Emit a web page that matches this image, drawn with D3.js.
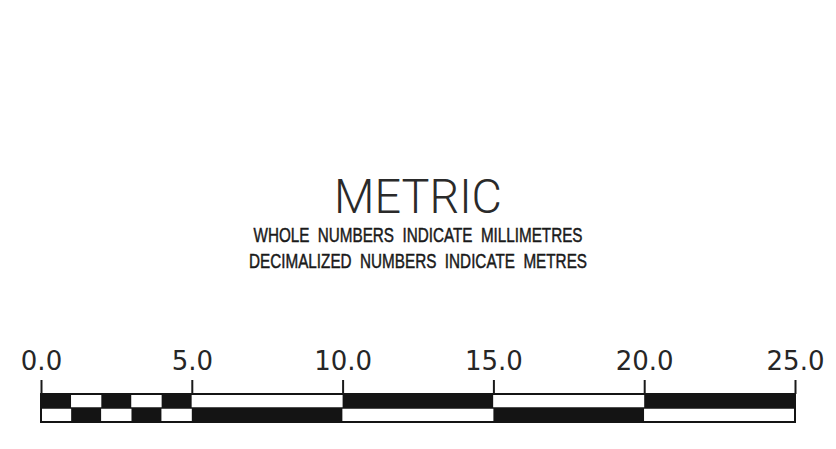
<!DOCTYPE html>
<html lang="en">
<head>
<meta charset="UTF-8">
<script src="https://d3js.org/d3.v7.min.js"></script>
<style>
  body { margin: 0; background: #fff; }
  .scale-axis text { font-family: "DejaVu Sans", sans-serif; font-size: 26px; fill: #262626; }
  .scale-axis line { stroke: #1a1a1a; stroke-width: 2; }
</style>
</head>
<body>
<svg id="chart"></svg>
<script>
// scale bar data
const title = "METRIC";
const subtitles = ["WHOLE  NUMBERS  INDICATE  MILLIMETRES", "DECIMALIZED  NUMBERS  INDICATE  METRES"];
const tickValues = [0, 5, 10, 15, 20, 25];
const segmentBreaks = [0, 1, 2, 3, 4, 5, 10, 15, 20, 25];
const topRowFill = ["black", "white", "black", "white", "black", "white", "black", "white", "black"];

const svgWidth = 836, svgHeight = 449;
const svg = d3.select("#chart").attr("width", svgWidth).attr("height", svgHeight);

const x = d3.scaleLinear().domain([0, 25]).range([41, 795]);
const barTop = 394, barMid = 408, barBottom = 422;
const ink = "#141414";

// title
svg.append("text")
  .attr("x", 418).attr("y", 213)
  .attr("text-anchor", "middle")
  .attr("textLength", 168).attr("lengthAdjust", "spacingAndGlyphs")
  .style("font-family", "Roboto, 'Open Sans', sans-serif")
  .style("font-weight", 300)
  .style("font-size", "49px")
  .style("fill", "#2a2a2a")
  .text(title);

const subWidths = [329, 338];
const subBase = [242, 268];
svg.selectAll(".sub")
  .data(subtitles)
  .enter().append("text")
  .attr("class", "sub")
  .attr("x", 418)
  .attr("y", (d, i) => subBase[i])
  .attr("text-anchor", "middle")
  .attr("textLength", (d, i) => subWidths[i])
  .attr("lengthAdjust", "spacingAndGlyphs")
  .style("font-family", "'Liberation Sans Narrow', 'Liberation Sans', Arial, sans-serif")
  .style("font-size", "21px")
  .style("fill", "#1a1a1a")
  .style("stroke", "#1a1a1a")
  .style("stroke-width", 0.5)
  .style("white-space", "pre")
  .text(d => d);

// segments
const segs = d3.range(segmentBreaks.length - 1).map(i => ({
  x0: segmentBreaks[i], x1: segmentBreaks[i + 1], top: topRowFill[i]
}));

svg.selectAll(".seg-top")
  .data(segs)
  .enter().append("rect")
  .attr("x", d => x(d.x0)).attr("y", barTop)
  .attr("width", d => x(d.x1) - x(d.x0)).attr("height", barMid - barTop)
  .attr("fill", d => d.top === "black" ? ink : "#fff");

svg.selectAll(".seg-bot")
  .data(segs)
  .enter().append("rect")
  .attr("x", d => x(d.x0)).attr("y", barMid)
  .attr("width", d => x(d.x1) - x(d.x0)).attr("height", barBottom - barMid)
  .attr("fill", d => d.top === "black" ? "#fff" : ink);

// outline
svg.append("rect")
  .attr("x", x(0)).attr("y", barTop)
  .attr("width", x(25) - x(0)).attr("height", barBottom - barTop)
  .attr("fill", "none").attr("stroke", ink).attr("stroke-width", 2);

svg.append("line")
  .attr("x1", x(0)).attr("x2", x(25))
  .attr("y1", barMid).attr("y2", barMid)
  .attr("stroke", ink).attr("stroke-width", 1.5);

// axis with ticks and labels
const axis = svg.append("g")
  .attr("class", "scale-axis")
  .attr("transform", `translate(0,${barTop})`)
  .call(d3.axisTop(x).tickValues(tickValues).tickSize(14).tickPadding(10).tickFormat(d3.format(".1f")));
axis.select(".domain").remove();
</script>
</body>
</html>
